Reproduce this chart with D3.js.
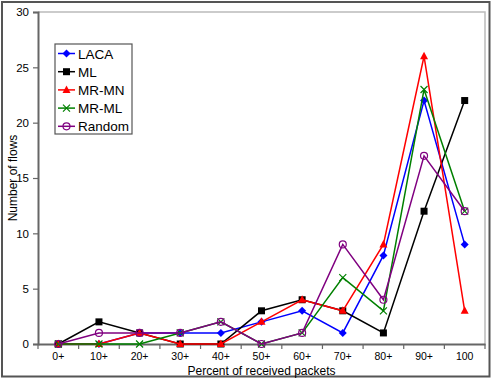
<!DOCTYPE html>
<html>
<head>
<meta charset="utf-8">
<script src="https://cdn.jsdelivr.net/npm/d3@7"></script>
<style>
  body { margin: 0; background: #fff; }
  svg { display: block; font-family: Arial, "Liberation Sans", sans-serif; }
</style>
</head>
<body>
<svg id="viz" width="492" height="379"></svg>
<script>
// categories on the x axis
const categories = ["0+", "10+", "20+", "30+", "40+", "50+", "60+", "70+", "80+", "90+", "100"];

// number of flows per series
const laca   = [0, 0, 1, 1, 1, 2, 3, 1, 8, 22, 9];
const ml     = [0, 2, 1, 0, 0, 3, 4, 3, 1, 12, 22];
const mrMn   = [0, 0, 1, 0, 0, 2, 4, 3, 9, 26, 3];
const mrMl   = [0, 0, 0, 1, 2, 0, 1, 6, 3, 23, 12];
const random = [0, 1, 1, 1, 2, 0, 1, 9, 4, 17, 12];

const yTicks = [0, 5, 10, 15, 20, 25, 30];

const series = [
  { name: "LACA",   values: laca,   color: "#0000ff", marker: "diamond" },
  { name: "ML",     values: ml,     color: "#000000", marker: "square" },
  { name: "MR-MN",  values: mrMn,   color: "#ff0000", marker: "triangle" },
  { name: "MR-ML",  values: mrMl,   color: "#008000", marker: "cross" },
  { name: "Random", values: random, color: "#800080", marker: "circle" }
];

const svg = d3.select("#viz");
const margin = { top: 12, right: 7, bottom: 35, left: 38 };
const W = 492, H = 379;
const width = W - margin.left - margin.right;
const height = H - margin.top - margin.bottom;

// outer frame
svg.append("rect")
  .attr("x", 2).attr("y", 2)
  .attr("width", W - 4.5).attr("height", H - 4.5)
  .attr("fill", "none").attr("stroke", "#555").attr("stroke-width", 2);

const g = svg.append("g").attr("transform", `translate(${margin.left},${margin.top})`);

const x = d3.scaleBand().domain(categories).range([0, width]);
const y = d3.scaleLinear().domain([0, 30]).range([height, 0]);

// light plot area frame (top and right)
g.append("path")
  .attr("d", `M0,0H${width}V${height}`)
  .attr("fill", "none").attr("stroke", "#bbb").attr("stroke-width", 1.5);

// y axis
const yAxis = g.append("g")
  .call(d3.axisLeft(y).tickValues(yTicks).tickSize(5).tickPadding(4));
yAxis.select(".domain").attr("stroke", "#666").attr("stroke-width", 2);
yAxis.selectAll(".tick line").attr("stroke", "#666").attr("stroke-width", 1.2);
yAxis.selectAll("text").attr("font-size", 11.5).attr("fill", "#000")
  .attr("font-family", "Arial, 'Liberation Sans', sans-serif");

// x axis, ticks on band boundaries
const xAxis = g.append("g").attr("transform", `translate(0,${height})`)
  .call(d3.axisBottom(x).tickSize(0).tickPadding(9));
xAxis.select(".domain").attr("stroke", "#666").attr("stroke-width", 2);
xAxis.selectAll("text").attr("font-size", 10.5).attr("fill", "#000")
  .attr("font-family", "Arial, 'Liberation Sans', sans-serif");
g.append("g").selectAll("line")
  .data(categories.concat([null]))
  .join("line")
  .attr("x1", (d, i) => i * x.step()).attr("x2", (d, i) => i * x.step())
  .attr("y1", height).attr("y2", height + 5)
  .attr("stroke", "#666").attr("stroke-width", 1.2);

// axis titles
svg.append("text")
  .attr("x", margin.left + width / 2).attr("y", 374.5)
  .attr("text-anchor", "middle").attr("font-size", 12)
  .text("Percent of received packets");
svg.append("text")
  .attr("transform", `translate(17,${margin.top + height / 2}) rotate(-90)`)
  .attr("text-anchor", "middle").attr("font-size", 12)
  .text("Number of flows");

function drawMarker(sel, type, color) {
  if (type === "diamond") {
    sel.append("path").attr("d", "M0,-4L4,0L0,4L-4,0Z").attr("fill", color);
  } else if (type === "square") {
    sel.append("rect").attr("x", -3.5).attr("y", -3.5).attr("width", 7).attr("height", 7).attr("fill", color);
  } else if (type === "triangle") {
    sel.append("path").attr("d", "M0,-4.5L4,3L-4,3Z").attr("fill", color);
  } else if (type === "cross") {
    sel.append("path").attr("d", "M-3.5,-3.5L3.5,3.5M-3.5,3.5L3.5,-3.5")
      .attr("stroke", color).attr("stroke-width", 1.2).attr("fill", "none");
  } else {
    sel.append("circle").attr("r", 3.5).attr("fill", "none")
      .attr("stroke", color).attr("stroke-width", 1.2);
  }
}

const line = d3.line()
  .x((d, i) => x(categories[i]) + x.bandwidth() / 2)
  .y(d => y(d));

series.forEach(s => {
  const sg = g.append("g");
  sg.append("path")
    .attr("d", line(s.values))
    .attr("fill", "none").attr("stroke", s.color).attr("stroke-width", 1.5);
  sg.selectAll("g.m")
    .data(s.values)
    .join("g").attr("class", "m")
    .attr("transform", (d, i) => `translate(${x(categories[i]) + x.bandwidth() / 2},${y(d)})`)
    .each(function () { drawMarker(d3.select(this), s.marker, s.color); });
});

// legend
const legend = svg.append("g").attr("transform", "translate(55,44)");
legend.append("rect")
  .attr("width", 77).attr("height", 90)
  .attr("fill", "#fff").attr("stroke", "#555").attr("stroke-width", 1.2);
series.forEach((s, i) => {
  const row = legend.append("g").attr("transform", `translate(0,${9.5 + i * 18.2})`);
  row.append("line").attr("x1", 3).attr("x2", 20)
    .attr("stroke", s.color).attr("stroke-width", 1.5);
  const m = row.append("g").attr("transform", "translate(11.5,0)");
  drawMarker(m, s.marker, s.color);
  row.append("text")
    .attr("x", 23).attr("y", 5)
    .attr("font-size", 13.5)
    .text(s.name);
});
</script>
</body>
</html>
